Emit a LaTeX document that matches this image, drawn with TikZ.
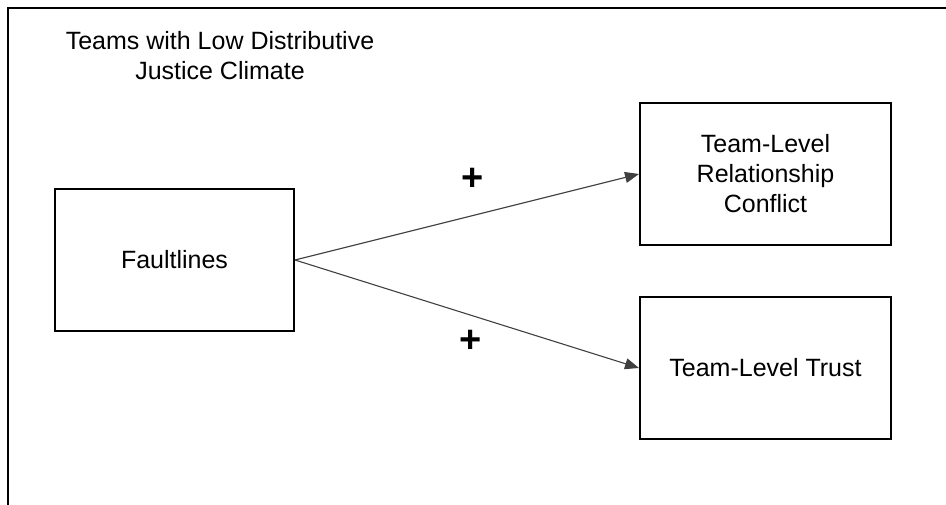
\documentclass[tikz,border=0pt]{standalone}
\usepackage{fontspec}
\setmainfont{Liberation Sans}
\usetikzlibrary{arrows.meta}

\begin{document}
\begin{tikzpicture}[x=1pt,y=-1pt,
  every node/.style={font=\fontsize{25}{30}\selectfont},
  varbox/.style={draw=black, line width=2pt, align=center, inner sep=0pt},
  path/.style={draw=black!75, line width=1.1pt, -{Triangle[length=14pt,width=11pt]}},
  sign/.style={font=\fontsize{38}{38}\selectfont\bfseries, inner sep=0pt}]

  % page area and the open frame (top and left edges)
  \useasboundingbox (0,0) rectangle (946,505);
  \coordinate (frameTR) at (946,8);
  \coordinate (frameTL) at (8,8);
  \coordinate (frameBL) at (8,505);
  \draw[line width=2.4pt] (frameTR) -- (frameTL) -- (frameBL);

  % condition label
  \node[align=center, font=\fontsize{25}{30}\selectfont] (title) at (220,56)
    {Teams with Low Distributive\\Justice Climate};

  % variables
  \node[varbox, minimum width=239pt, minimum height=142pt] (fault) at (174.5,260) {Faultlines};
  \node[varbox, minimum width=251pt, minimum height=142pt] (conflict) at (765.5,174)
    {Team-Level\\Relationship\\Conflict};
  \node[varbox, minimum width=251pt, minimum height=142pt] (trust) at (765.5,368)
    {Team-Level Trust};

  % effects
  \draw[path] (fault.east) -- (conflict.west);
  \draw[path] (fault.east) -- (trust.west);

  \node[sign] (plusA) at (472.5,179.5) {+};
  \node[sign] (plusB) at (470.5,341) {+};
\end{tikzpicture}
\end{document}
